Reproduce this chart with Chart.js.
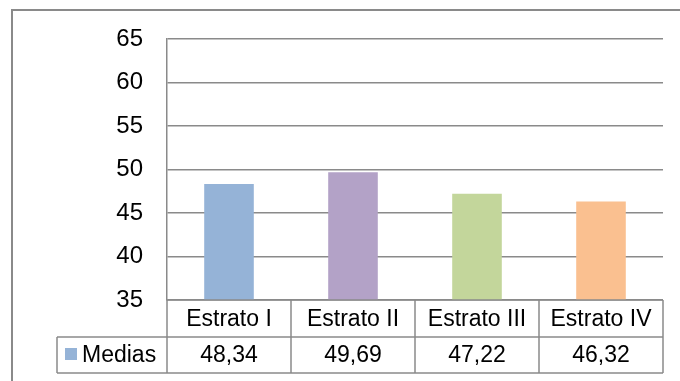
<!DOCTYPE html>
<html>
<head>
<meta charset="utf-8">
<script src="https://cdn.jsdelivr.net/npm/chart.js@4/dist/chart.umd.min.js"></script>
<style>
  html, body { margin: 0; padding: 0; background: #fff; }
  canvas { display: block; }
</style>
</head>
<body>
<canvas id="grafico" width="680" height="381"></canvas>
<script>
// datos del gráfico
const estratos = ['Estrato I', 'Estrato II', 'Estrato III', 'Estrato IV'];
const medias = [48.34, 49.69, 47.22, 46.32];
const coresBarras = ['#95B3D7', '#B3A2C7', '#C3D69B', '#FAC090'];
const nomeSerie = 'Medias';

const corLinha = '#8a8a8a';
const fonte = 'Arial, "Liberation Sans", sans-serif';

// moldura externa do gráfico
const moldura = {
  id: 'moldura',
  beforeDraw(chart) {
    const ctx = chart.ctx;
    ctx.save();
    ctx.strokeStyle = corLinha;
    ctx.lineWidth = 2;
    ctx.beginPath();
    ctx.moveTo(12, 381);
    ctx.lineTo(12, 10);
    ctx.lineTo(680, 10);
    ctx.stroke();
    ctx.restore();
  }
};

// tabela de dados embaixo do eixo
const tabelaDados = {
  id: 'tabelaDados',
  afterDraw(chart) {
    const ctx = chart.ctx;
    const area = chart.chartArea;
    const x = chart.scales.x;
    const topo = area.bottom;
    const meio = topo + 37;
    const base = meio + 36;
    const esq = 57;
    const passo = (area.right - area.left) / estratos.length;

    ctx.save();
    ctx.strokeStyle = corLinha;
    ctx.lineWidth = 1.5;
    ctx.beginPath();
    // linhas horizontais
    ctx.moveTo(area.left, topo); ctx.lineTo(area.right, topo);
    ctx.moveTo(esq, meio); ctx.lineTo(area.right, meio);
    ctx.moveTo(esq, base); ctx.lineTo(area.right, base);
    // linhas verticais
    ctx.moveTo(esq, meio); ctx.lineTo(esq, base);
    for (let i = 0; i <= estratos.length; i++) {
      const px = area.left + passo * i;
      ctx.moveTo(px, topo); ctx.lineTo(px, base);
    }
    ctx.stroke();

    ctx.fillStyle = '#000';
    ctx.font = '23px ' + fonte;
    ctx.textBaseline = 'middle';
    ctx.textAlign = 'center';
    estratos.forEach((nome, i) => {
      const cx = x.getPixelForValue(i);
      ctx.fillText(nome, cx, (topo + meio) / 2 + 1);
      ctx.fillText(medias[i].toFixed(2).replace('.', ','), cx, (meio + base) / 2 + 1);
    });

    // legenda da série
    ctx.fillStyle = coresBarras[0];
    ctx.fillRect(65, meio + 11, 12, 12);
    ctx.fillStyle = '#000';
    ctx.textAlign = 'left';
    ctx.fillText(nomeSerie, 82, (meio + base) / 2 + 1);
    ctx.restore();
  }
};

new Chart(document.getElementById('grafico'), {
  type: 'bar',
  data: {
    labels: estratos,
    datasets: [{
      label: nomeSerie,
      data: medias,
      backgroundColor: coresBarras,
      borderWidth: 0,
      barPercentage: 0.4,
      categoryPercentage: 1,
    }],
  },
  options: {
    responsive: false,
    animation: false,
    layout: { padding: { top: 39, right: 17, bottom: 81, left: 0 } },
    plugins: {
      legend: { display: false },
      tooltip: { enabled: false },
    },
    scales: {
      x: { display: false },
      y: {
        min: 35,
        max: 65,
        afterFit(scale) { scale.width = 167; },
        ticks: {
          stepSize: 5,
          padding: 24,
          color: '#000',
          font: { family: fonte, size: 24 },
        },
        grid: { color: corLinha, lineWidth: 1.5, drawTicks: false },
        border: { display: true, color: corLinha, width: 1.5 },
      },
    },
  },
  plugins: [moldura, tabelaDados],
});
</script>
</body>
</html>
